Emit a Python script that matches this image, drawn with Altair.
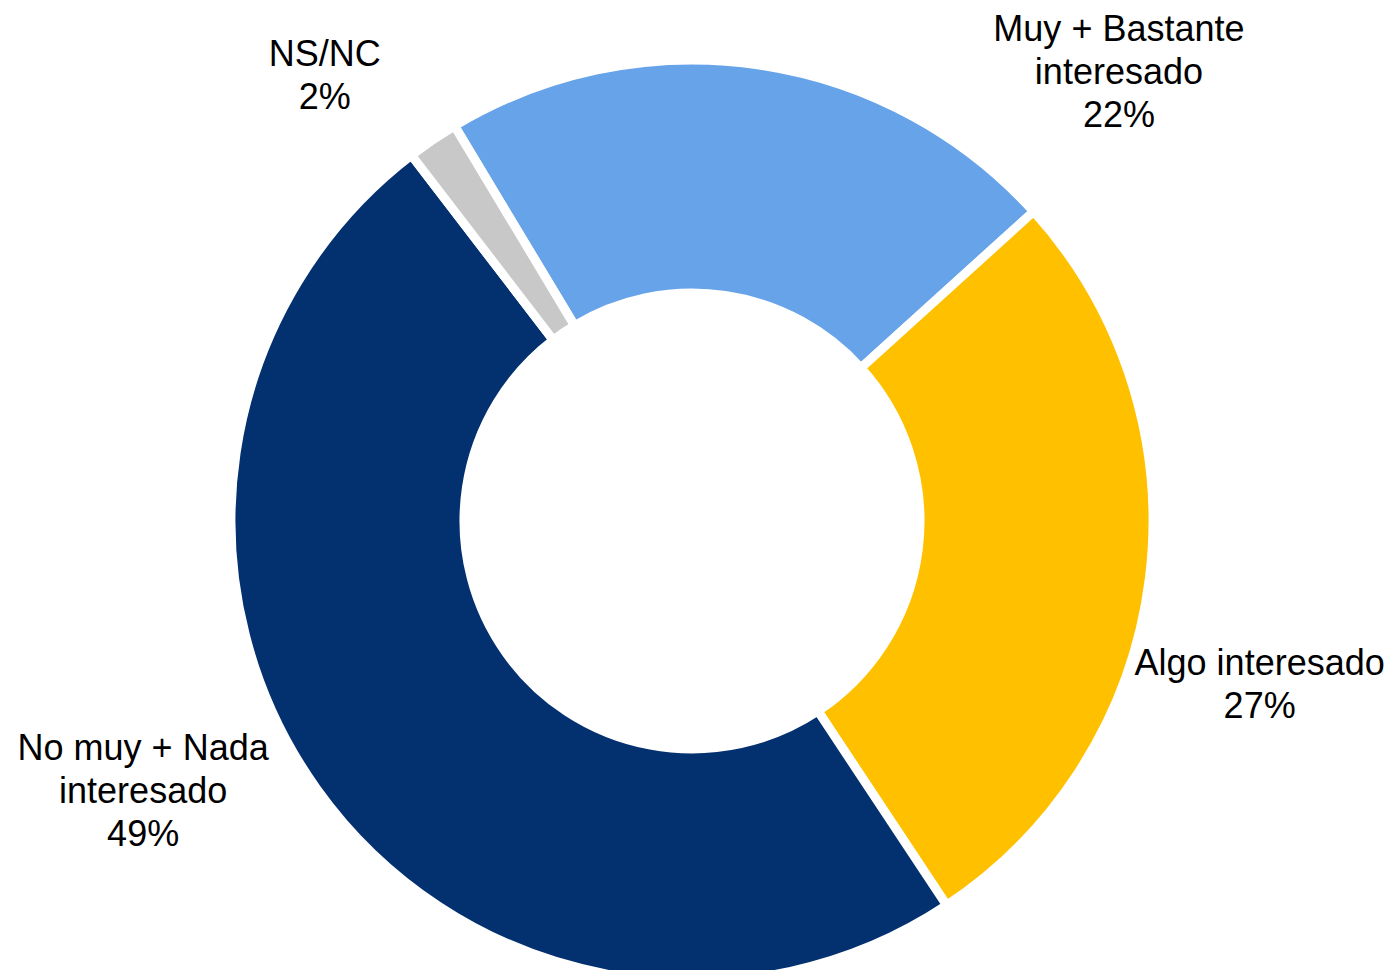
import altair as alt
import pandas as pd

categories = ["Muy + Bastante interesado", "Algo interesado", "No muy + Nada interesado", "NS/NC"]
values = [21.9, 27.4, 48.9, 1.8]
labels = ["Muy + Bastante\ninteresado\n22%", "Algo interesado\n27%", "No muy + Nada\ninteresado\n49%", "NS/NC\n2%"]
colors = ["#67A3E8", "#FFC000", "#03306F", "#C8C8C8"]
order = [0, 1, 2, 3]

df = pd.DataFrame({"cat": categories, "value": values, "label": labels, "ord": order})

start = 5.742  # radians (≈ -31° from 12 o'clock)
theta_scale = alt.Scale(range=[start, start + 6.283185307])

CX, CY = 684, 513

base = alt.Chart(df).transform_window(
    cum="sum(value)", sort=[alt.SortField("ord")]
).transform_calculate(
    mid="datum.cum - datum.value / 2"
)

arcs = alt.Chart(df).mark_arc(
    outerRadius=461, innerRadius=228, stroke="white", strokeWidth=9, x=CX, y=CY
).encode(
    theta=alt.Theta("value:Q", stack=True, scale=theta_scale),
    color=alt.Color("cat:N", scale=alt.Scale(domain=categories, range=colors), legend=None),
    order=alt.Order("ord:Q"),
)

offsets = {
    categories[0]: (345, 63),
    categories[1]: (12, 73),
    categories[2]: (-93, -97),
    categories[3]: (-52, -3),
}

layers = [arcs]
for cat, (dx, dy) in offsets.items():
    t = base.transform_filter(alt.datum.cat == cat).mark_text(
        radius=560, x=CX, y=CY, dx=dx, dy=dy, lineBreak="\n", fontSize=36,
        font="Liberation Sans", color="black", align="center", baseline="middle",
        lineHeight=43,
    ).encode(
        theta=alt.Theta("mid:Q", stack=None,
                        scale=alt.Scale(domain=[0, 100], range=[start, start + 6.283185307])),
        text="label:N",
    )
    layers.append(t)

chart = alt.layer(*layers).resolve_scale(theta="independent").properties(
    width=1382, height=962, padding=0,
    autosize=alt.AutoSizeParams(type="none"),
).configure_view(stroke=None)

chart.save("out.html", embed_options={"renderer": "svg", "actions": False})
